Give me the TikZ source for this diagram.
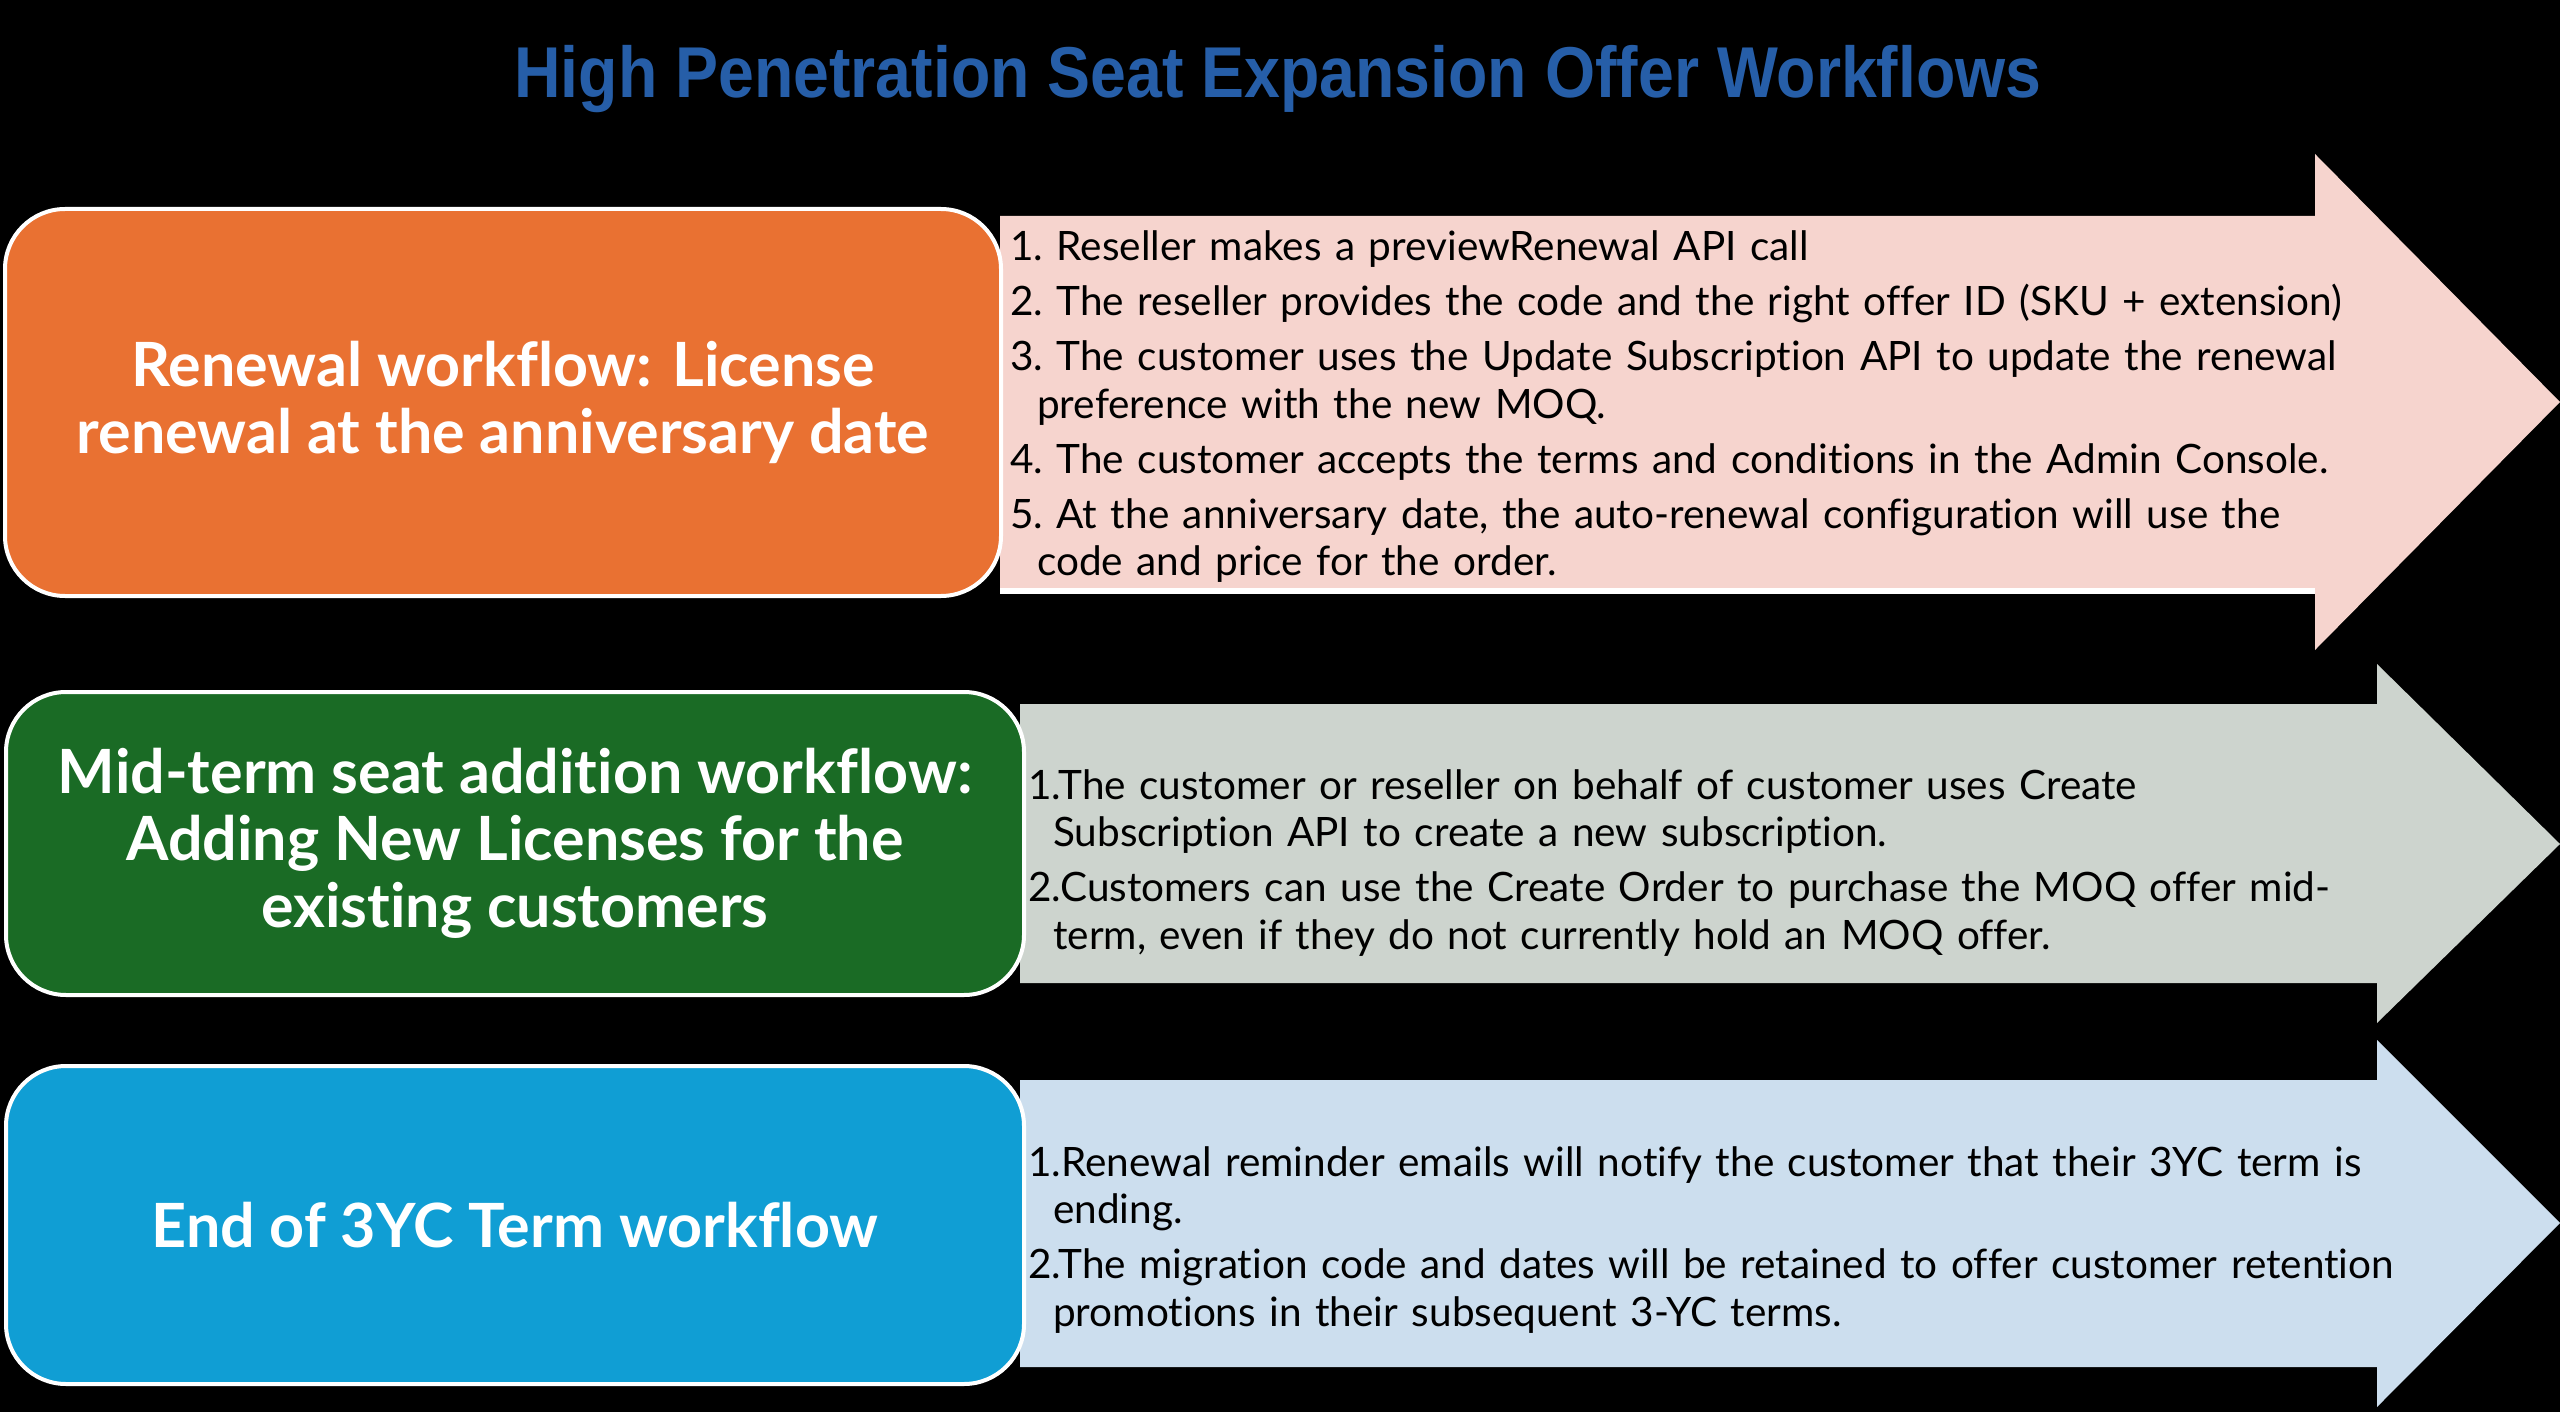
\documentclass[tikz,border=0pt]{standalone}
\usepackage{graphicx}
\usepackage{fontspec}
\setmainfont{Lato}[Ligatures=NoCommon]
\newfontfamily\titlefont{Liberation Sans}

\definecolor{titleblue}{RGB}{38,94,168}
\definecolor{reneworange}{RGB}{233,113,50}
\definecolor{midgreen}{RGB}{26,107,37}
\definecolor{endblue}{RGB}{16,158,212}
\definecolor{pinkfill}{RGB}{246,212,206}
\definecolor{sagefill}{RGB}{205,212,206}
\definecolor{skyfill}{RGB}{204,222,238}

\newlength\itemhang
\newcommand\stepline[1]{\hangindent=\itemhang\hangafter=1\noindent #1\par}

\tikzset{
  workbox/.style={draw=white, line width=4pt, rounded corners=60pt,
    text=white, align=center, inner sep=0pt,
    font=\bfseries\fontsize{61}{67}\selectfont},
  steptext/.style={anchor=base west, inner sep=0pt, text width=1540pt,
    align=left, text=black, font=\frenchspacing\fontsize{40.5}{47.5}\selectfont},
  bandarrow/.style={draw=none},
}

\begin{document}
\begin{tikzpicture}[x=1pt, y=-1pt]
  % canvas
  \fill[black] (0,0) rectangle (2560,1412);
  \useasboundingbox (0,0) rectangle (2560,1412);

  % heading
  \node[anchor=base, inner sep=0pt, text=titleblue] (title) at (1278,98)
    {\resizebox{1527pt}{\height}{\titlefont\bfseries\fontsize{72}{80}\selectfont High Penetration Seat Expansion Offer Workflows}};

  % block arrows carrying the steps
  \fill[pinkfill, bandarrow] (1000,216) -- (2315,216) -- (2315,154) -- (2560,402)
    -- (2315,650) -- (2315,588) -- (1000,588) -- cycle;
  \fill[white] (1000,588) rectangle (2315,594);
  \fill[sagefill, bandarrow] (1020,704) -- (2377,704) -- (2377,664) -- (2560,844)
    -- (2377,1023) -- (2377,983) -- (1020,983) -- cycle;
  \fill[skyfill, bandarrow] (1020,1080) -- (2377,1080) -- (2377,1040) -- (2560,1223)
    -- (2377,1407) -- (2377,1367) -- (1020,1367) -- cycle;

  % workflow boxes
  \node[workbox, fill=reneworange, minimum width=996pt, minimum height=387pt]
    (renewal) at (503,402.5) {Renewal workflow: License\\renewal at the anniversary date};
  \node[workbox, fill=midgreen, minimum width=1018pt, minimum height=303pt]
    (midterm) at (515,843.5) {Mid-term seat addition workflow:\\Adding New Licenses for the\\existing customers};
  \node[workbox, fill=endblue, minimum width=1018pt, minimum height=318pt]
    (endterm) at (515,1225) {End of 3YC Term workflow};

  % step lists
  \node[steptext] (renewalsteps) at (1010,261) {%
    \setlength\itemhang{27pt}\setlength\parskip{7.5pt}%
    \stepline{1. Reseller makes a previewRenewal API call}
    \stepline{2. The reseller provides the code and the right offer ID (SKU + extension)}
    \stepline{3. The customer uses the Update Subscription API to update the renewal\newline preference with the new MOQ.}
    \stepline{4. The customer accepts the terms and conditions in the Admin Console.}
    \stepline{5. At the anniversary date, the auto-renewal configuration will use the\newline code and price for the order.}};

  \node[steptext] (midtermsteps) at (1028,799) {%
    \setlength\itemhang{25pt}\setlength\parskip{7.5pt}%
    \stepline{1.The customer or reseller on behalf of customer uses Create\newline Subscription API to create a new subscription.}
    \stepline{2.Customers can use the Create Order to purchase the MOQ offer mid-\newline term, even if they do not currently hold an MOQ offer.}};

  \node[steptext] (endtermsteps) at (1028,1176) {%
    \setlength\itemhang{25pt}\setlength\parskip{7.5pt}%
    \stepline{1.Renewal reminder emails will notify the customer that their 3YC term is\newline ending.}
    \stepline{2.The migration code and dates will be retained to offer customer retention\newline promotions in their subsequent 3-YC terms.}};
\end{tikzpicture}
\end{document}
